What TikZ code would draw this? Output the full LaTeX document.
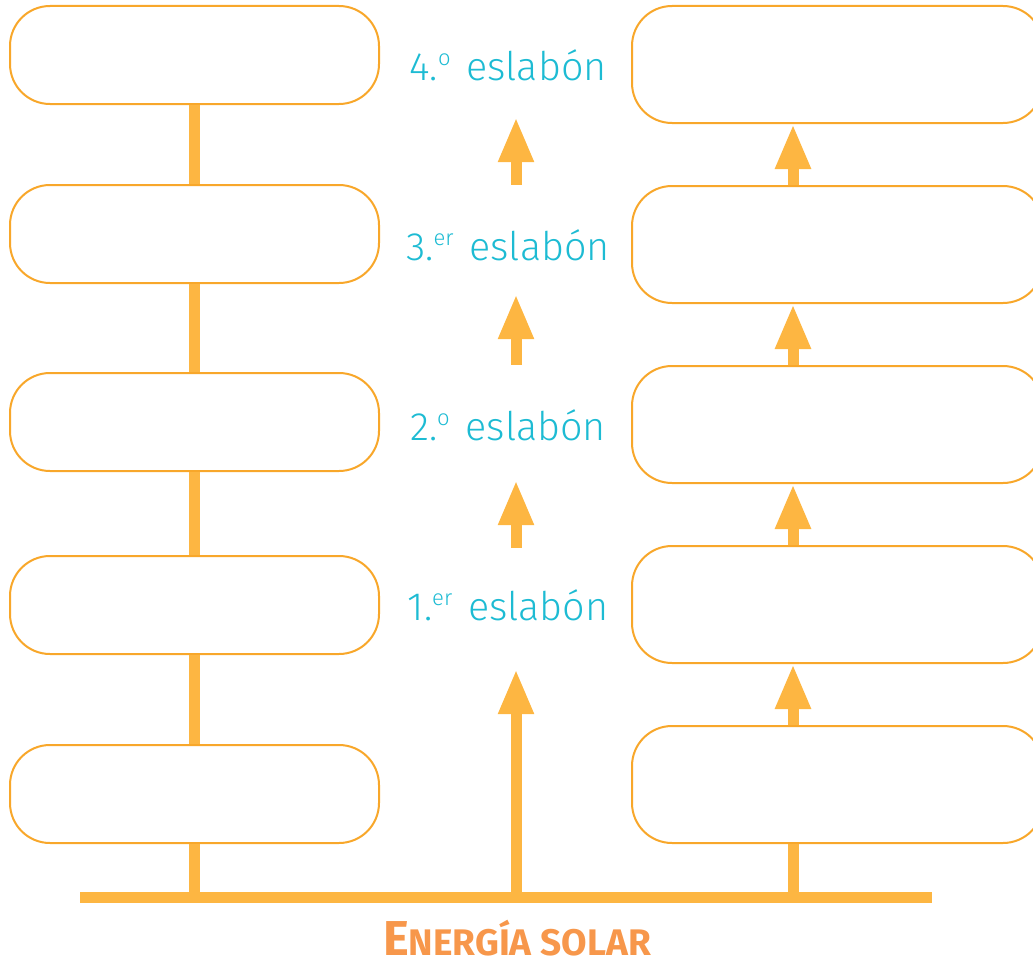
\documentclass[tikz,border=0pt]{standalone}
\usepackage{fontspec}
\setmainfont{Fira Sans}
\newfontfamily\lightfont{Fira Sans Light}
\usetikzlibrary{arrows.meta,calc}
\definecolor{linecol}{HTML}{FDB642}
\definecolor{boxcol}{HTML}{F8A72A}
\definecolor{txtcol}{HTML}{1DBBD3}
\definecolor{solcol}{HTML}{F7974B}
\tikzset{
  box/.style={draw=boxcol, line width=2pt, rounded corners=40pt, fill=white},
  lbox/.style={box, minimum width=369pt, minimum height=98pt, inner sep=0pt},
  rbox/.style={box, minimum width=411pt, minimum height=117pt, inner sep=0pt},
  bar/.style={draw=linecol, line width=11pt},
  arr/.style={draw=linecol, line width=11pt, -{Triangle[width=33pt,length=45pt]}},
  lab/.style={text=txtcol, font=\lightfont\fontsize{39.5}{42}\selectfont, minimum height=104pt, inner sep=0pt},
}
\newcommand{\supr}[1]{\raisebox{15pt}{\fontsize{22}{22}\selectfont #1}}
\begin{document}
\begin{tikzpicture}[x=1pt,y=-1pt]
\useasboundingbox (0,0) rectangle (1033,966);
% bottom bar
\coordinate (barL) at (80,897);
\coordinate (barR) at (932,897);
\coordinate (barM) at (516,897);
% left boxes
\node[lbox] (L4) at (194.5,55) {};
\node[lbox] (L3) at (194.5,234) {};
\node[lbox] (L2) at (194.5,422) {};
\node[lbox] (L1) at (194.5,605) {};
\node[lbox] (L0) at (194.5,794) {};
% right boxes
\node[rbox] (R4) at (837.5,64.5) {};
\node[rbox] (R3) at (837.5,244.5) {};
\node[rbox] (R2) at (837.5,424.5) {};
\node[rbox] (R1) at (837.5,604.5) {};
\node[rbox] (R0) at (837.5,784.5) {};
% labels
\node[lab] (t4) at (508,65) {4.\supr{o}\hspace{0.4em}eslabón};
\node[lab] (t3) at (508,245) {3.\supr{er}\hspace{0.4em}eslabón};
\node[lab] (t2) at (508,425) {2.\supr{o}\hspace{0.4em}eslabón};
\node[lab] (t1) at (508,605) {1.\supr{er}\hspace{0.4em}eslabón};
\node[text=solcol, font=\bfseries, anchor=base, text depth=0pt, inner sep=0pt] (sol) at (517,955)
  {{\fontsize{49}{49}\selectfont E}{\fontsize{37}{37}\selectfont NERGÍA SOLAR}};
% connectors
\draw[bar] (barL) -- (barR);
\draw[bar] (L0.south) -- (L0.south |- barL);
\draw[bar] (L1.south) -- (L0.north);
\draw[bar] (L2.south) -- (L1.north);
\draw[bar] (L3.south) -- (L2.north);
\draw[bar] (L4.south) -- (L3.north);
\draw[bar] (R0.south -| 793,0) -- (793,897);
\draw[arr] (R0.north -| 793,0) -- (R1.south -| 793,0);
\draw[arr] (R1.north -| 793,0) -- (R2.south -| 793,0);
\draw[arr] (R2.north -| 793,0) -- (R3.south -| 793,0);
\draw[arr] (R3.north -| 793,0) -- (R4.south -| 793,0);
\draw[arr] (barM) -- ($(t1.south)+(8,12)$);
\draw[arr] ($(t1.north)+(8,-5)$) -- ($(t2.south)+(8,3)$);
\draw[arr] ($(t2.north)+(8,-8)$) -- ($(t3.south)+(8,-3)$);
\draw[arr] ($(t3.north)+(8,-8)$) -- ($(t4.south)+(8,0)$);
\end{tikzpicture}
\end{document}
